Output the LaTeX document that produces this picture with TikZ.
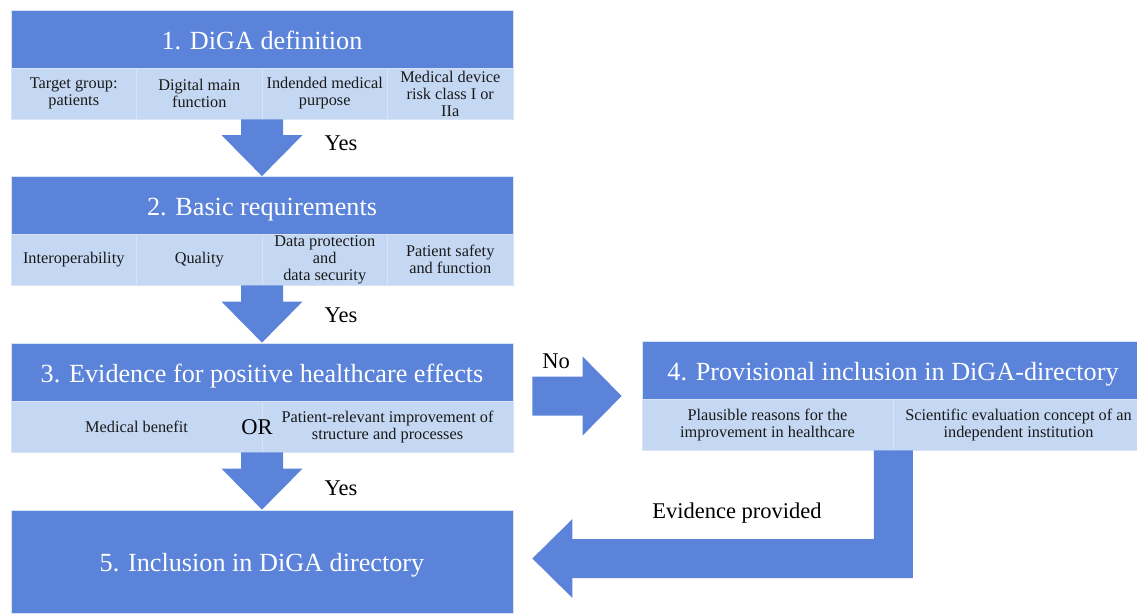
\documentclass[tikz,border=0pt]{standalone}
\usepackage{fontspec}
\setmainfont{Liberation Serif}
\usepackage{tikz}
\usetikzlibrary{calc}
\definecolor{headblue}{RGB}{90,131,217}
\definecolor{cellblue}{RGB}{197,216,243}
\definecolor{edgeblue}{RGB}{216,228,246}
\tikzset{head box/.style={
  fill=headblue, draw=edgeblue, line width=0.8pt,
  text=white, minimum height=58pt, inner sep=0pt,
  text height=20pt, text depth=0pt,
  font=\fontsize{26.2}{29}\selectfont
  },
  sub cell/.style={
  fill=cellblue, draw=edgeblue, line width=0.8pt,
  text=black!90, minimum height=51pt, inner sep=0pt, align=center,
  font=\fontsize{16.3}{17}\selectfont
  },
  block arrow/.style={fill=headblue},
  lbl/.style={text=black, font=\fontsize{22.5}{25}\selectfont}
}

\begin{document}
\begin{tikzpicture}[x=1pt,y=-1pt]
    \useasboundingbox (0,0) rectangle (1137,613);

    % 1. definition
    \node[head box, minimum width=502pt] (def) at (262,39.5) {1. DiGA definition};
    \foreach \i [count=\n] in {{Target group:\\patients},{Digital main\\function},{Indended medical\\purpose},{Medical device\\risk class I or\\IIa}}
        \node[sub cell, minimum width=125.5pt] (def\n) at ({-51.75+125.5*\n},93.5) {\i};

    % 2. requirements
    \node[head box, minimum width=502pt] (req) at (262,205.5) {2. Basic requirements};
    \foreach \i [count=\n] in {Interoperability,Quality,{Data protection\\and\\data security},{Patient safety\\and function}}
        \node[sub cell, minimum width=125.5pt] (req\n) at ({-51.75+125.5*\n},259.5) {\i};

    % 3. evidence
    \node[head box, minimum width=502pt] (evid) at (262,372) {3. Evidence for positive healthcare effects};
    \foreach \i [count=\n] in {{Medical benefit},{Patient-relevant improvement of\\structure and processes}}
        \node[sub cell, minimum width=251pt] (evid\n) at ({-114.5+251*\n},426.5) {\i};
    \node[lbl] (or) at (257,427) {OR};

    % 4. provisional
    \node[head box, minimum width=502pt] (prov) at (893,370.5) {4. Provisional inclusion in DiGA-directory};
    \foreach \i [count=\n] in {{Plausible reasons for the\\improvement in healthcare},{Scientific evaluation concept of an\\independent institution}}
        \node[sub cell, minimum width=251pt] (prov\n) at ({516.5+251*\n},424.5) {\i};

    % 5. inclusion
    \node[head box, minimum width=502pt, minimum height=103pt] (incl) at (262,561.5) {5. Inclusion in DiGA directory};

    % down arrows
    \foreach \a/\b in {def1/req,req1/evid,evid1/incl} {
        \coordinate (s) at (\b.north |- \a.south);
        \coordinate (t) at (\b.north);
        \fill[block arrow] ($(s)+(-21,0)$) -- ($(t)+(-21,-41)$) -- ($(t)+(-40.5,-41)$) -- (t)
            -- ($(t)+(40.5,-41)$) -- ($(t)+(21,-41)$) -- ($(s)+(21,0)$) -- cycle;
    }
    \node[lbl] (yes1) at (341,143) {Yes};
    \node[lbl] (yes2) at (341,315) {Yes};
    \node[lbl] (yes3) at (341,488) {Yes};

    % no arrow
    \coordinate (nos) at ($(evid.east)+(19,24)$);
    \coordinate (not) at ($(prov.west)+(-20,25.5)$);
    \fill[block arrow] ($(nos)+(0,-19.5)$) -- ($(not)+(-39,-19.5)$) -- ($(not)+(-39,-39.5)$) -- (not)
        -- ($(not)+(-39,39.5)$) -- ($(not)+(-39,19.5)$) -- ($(nos)+(0,19.5)$) -- cycle;
    \node[lbl] (no) at (556,361) {No};

    % evidence arrow
    \coordinate (evs) at (prov1.south east);
    \coordinate (evt) at ($(incl.east)+(19,-3)$);
    \fill[block arrow] ($(evs)+(-19.5,0)$) -- ($(evs |- evt)+(-19.5,-19.5)$) -- ($(evt)+(40,-19.5)$)
        -- ($(evt)+(40,-39.5)$) -- (evt) -- ($(evt)+(40,39.5)$) -- ($(evt)+(40,19.5)$)
        -- ($(evs |- evt)+(19.5,19.5)$) -- ($(evs)+(19.5,0)$) -- cycle;
    \node[lbl] (evp) at (737,513) {Evidence provided};

\end{tikzpicture}
\end{document}
